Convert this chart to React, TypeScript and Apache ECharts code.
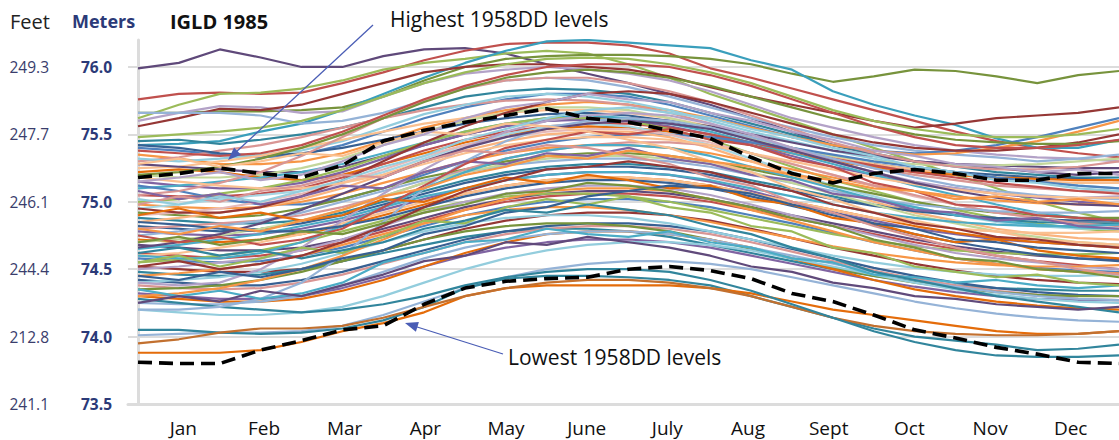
import React, { useEffect, useRef } from "react";
import * as echarts from "echarts";

// x positions: half-month steps from start of January to end of December
const halfMonthIndex = [0, 1, 2, 3, 4, 5, 6, 7, 8, 9, 10, 11, 12, 13, 14, 15, 16, 17, 18, 19, 20, 21, 22, 23, 24];
const monthLabels = ["Jan", "Feb", "Mar", "Apr", "May", "June", "July", "Aug", "Sept", "Oct", "Nov", "Dec"];
const meterTicks = [73.5, 74.0, 74.5, 75.0, 75.5, 76.0];
const feetTicks = ["241.1", "212.8", "244.4", "246.1", "247.7", "249.3"];

const highest1958DD = [75.18, 75.21, 75.25, 75.21, 75.18, 75.27, 75.45, 75.53, 75.59, 75.64, 75.69, 75.62, 75.59, 75.53, 75.47, 75.33, 75.21, 75.14, 75.21, 75.24, 75.21, 75.16, 75.16, 75.21, 75.21];
const lowest1958DD = [73.81, 73.80, 73.80, 73.90, 73.97, 74.05, 74.08, 74.24, 74.36, 74.41, 74.43, 74.44, 74.50, 74.52, 74.49, 74.43, 74.32, 74.26, 74.16, 74.05, 73.99, 73.92, 73.87, 73.81, 73.80];

const highTraces = [
  [75.99, 76.03, 76.13, 76.07, 76.00, 76.00, 76.08, 76.13, 76.14, 76.10, 76.02, 75.95, 75.88, 75.80, 75.72, 75.62, 75.52, 75.42, 75.35, 75.30, 75.28, 75.25, 75.22, 75.20, 75.22],
  [75.76, 75.80, 75.81, 75.80, 75.81, 75.88, 75.96, 76.05, 76.12, 76.17, 76.18, 76.18, 76.16, 76.10, 75.99, 75.92, 75.84, 75.76, 75.68, 75.60, 75.52, 75.45, 75.40, 75.36, 75.33],
  [75.62, 75.72, 75.80, 75.81, 75.84, 75.90, 75.98, 76.03, 76.06, 76.10, 76.12, 76.10, 76.02, 75.92, 75.80, 75.70, 75.60, 75.50, 75.40, 75.30, 75.20, 75.10, 75.00, 74.92, 74.85],
  [75.66, 75.66, 75.67, 75.67, 75.68, 75.70, 75.78, 75.90, 76.00, 76.06, 76.08, 76.09, 76.09, 76.08, 76.06, 76.02, 75.95, 75.89, 75.93, 75.98, 75.97, 75.93, 75.88, 75.94, 75.97],
  [75.42, 75.43, 75.45, 75.52, 75.58, 75.68, 75.80, 75.92, 76.03, 76.12, 76.19, 76.20, 76.18, 76.16, 76.14, 76.05, 75.98, 75.82, 75.72, 75.64, 75.57, 75.47, 75.40, 75.40, 75.46],
  [75.60, 75.66, 75.71, 75.70, 75.66, 75.67, 75.78, 75.88, 75.95, 75.98, 76.00, 75.98, 75.95, 75.90, 75.82, 75.72, 75.62, 75.55, 75.48, 75.42, 75.38, 75.35, 75.33, 75.32, 75.30],
  [75.56, 75.62, 75.69, 75.68, 75.72, 75.80, 75.88, 75.96, 76.00, 76.02, 76.02, 76.00, 75.98, 75.93, 75.85, 75.78, 75.72, 75.66, 75.60, 75.55, 75.58, 75.62, 75.64, 75.66, 75.70],
  [75.66, 75.66, 75.66, 75.64, 75.58, 75.60, 75.66, 75.75, 75.85, 75.90, 75.92, 75.90, 75.85, 75.78, 75.70, 75.62, 75.55, 75.48, 75.42, 75.38, 75.35, 75.33, 75.30, 75.32, 75.35],
  [75.45, 75.46, 75.43, 75.46, 75.50, 75.55, 75.62, 75.70, 75.78, 75.82, 75.84, 75.83, 75.80, 75.74, 75.66, 75.58, 75.50, 75.42, 75.36, 75.30, 75.26, 75.22, 75.20, 75.18, 75.18],
];

const upperMidTraces = [
  [75.40, 75.38, 75.35, 75.33, 75.35, 75.42, 75.52, 75.62, 75.70, 75.76, 75.80, 75.80, 75.78, 75.72, 75.64, 75.56, 75.48, 75.42, 75.38, 75.36, 75.38, 75.42, 75.48, 75.55, 75.62],
  [75.35, 75.32, 75.28, 75.28, 75.30, 75.36, 75.45, 75.55, 75.62, 75.68, 75.72, 75.74, 75.72, 75.68, 75.62, 75.55, 75.48, 75.42, 75.38, 75.35, 75.36, 75.40, 75.45, 75.52, 75.60],
  [75.30, 75.33, 75.38, 75.42, 75.48, 75.55, 75.62, 75.68, 75.72, 75.75, 75.76, 75.75, 75.72, 75.66, 75.58, 75.48, 75.40, 75.32, 75.25, 75.20, 75.16, 75.12, 75.10, 75.08, 75.08],
  [75.42, 75.40, 75.36, 75.34, 75.36, 75.40, 75.46, 75.52, 75.58, 75.62, 75.65, 75.66, 75.64, 75.60, 75.54, 75.46, 75.38, 75.32, 75.28, 75.24, 75.22, 75.20, 75.18, 75.17, 75.16],
  [75.32, 75.30, 75.32, 75.35, 75.38, 75.45, 75.55, 75.65, 75.72, 75.78, 75.80, 75.78, 75.74, 75.68, 75.60, 75.52, 75.45, 75.38, 75.32, 75.26, 75.22, 75.18, 75.15, 75.12, 75.10],
  [75.25, 75.26, 75.30, 75.34, 75.40, 75.46, 75.52, 75.58, 75.62, 75.66, 75.68, 75.68, 75.66, 75.62, 75.56, 75.48, 75.40, 75.33, 75.28, 75.24, 75.20, 75.17, 75.15, 75.14, 75.14],
  [75.28, 75.26, 75.24, 75.22, 75.22, 75.26, 75.34, 75.42, 75.50, 75.56, 75.60, 75.62, 75.62, 75.60, 75.56, 75.50, 75.44, 75.38, 75.34, 75.30, 75.28, 75.27, 75.26, 75.25, 75.25],
  [75.20, 75.18, 75.18, 75.20, 75.25, 75.32, 75.42, 75.52, 75.60, 75.66, 75.70, 75.70, 75.68, 75.62, 75.55, 75.47, 75.40, 75.34, 75.30, 75.28, 75.27, 75.27, 75.28, 75.30, 75.32],
  [75.22, 75.24, 75.22, 75.18, 75.16, 75.20, 75.28, 75.36, 75.44, 75.50, 75.54, 75.56, 75.55, 75.52, 75.48, 75.42, 75.36, 75.30, 75.26, 75.22, 75.20, 75.18, 75.17, 75.16, 75.16],
  [75.15, 75.12, 75.10, 75.10, 75.14, 75.22, 75.32, 75.42, 75.50, 75.56, 75.60, 75.61, 75.60, 75.56, 75.50, 75.42, 75.34, 75.26, 75.20, 75.14, 75.10, 75.06, 75.03, 75.00, 74.98],
  [75.10, 75.12, 75.15, 75.18, 75.22, 75.28, 75.36, 75.44, 75.52, 75.58, 75.62, 75.64, 75.62, 75.58, 75.52, 75.44, 75.36, 75.28, 75.20, 75.12, 75.05, 74.98, 74.92, 74.88, 74.86],
  [75.05, 75.04, 75.04, 75.06, 75.10, 75.18, 75.28, 75.38, 75.46, 75.52, 75.56, 75.58, 75.58, 75.55, 75.50, 75.44, 75.38, 75.32, 75.27, 75.22, 75.18, 75.14, 75.11, 75.08, 75.06],
];

const midTraces = [
  [75.12, 75.08, 75.02, 74.98, 74.98, 75.02, 75.10, 75.20, 75.30, 75.38, 75.44, 75.48, 75.50, 75.50, 75.48, 75.44, 75.40, 75.35, 75.30, 75.26, 75.22, 75.18, 75.15, 75.12, 75.10],
  [75.00, 75.02, 75.06, 75.10, 75.16, 75.24, 75.34, 75.44, 75.52, 75.58, 75.62, 75.62, 75.60, 75.54, 75.46, 75.36, 75.26, 75.16, 75.08, 75.00, 74.94, 74.88, 74.84, 74.80, 74.78],
  [74.98, 74.96, 74.95, 74.96, 75.00, 75.06, 75.14, 75.22, 75.30, 75.36, 75.40, 75.42, 75.42, 75.40, 75.36, 75.30, 75.24, 75.18, 75.12, 75.08, 75.04, 75.01, 74.99, 74.98, 74.98],
  [74.95, 74.98, 75.02, 75.05, 75.08, 75.14, 75.22, 75.32, 75.42, 75.50, 75.56, 75.58, 75.56, 75.50, 75.42, 75.32, 75.22, 75.12, 75.04, 74.96, 74.90, 74.85, 74.82, 74.80, 74.80],
  [74.92, 74.90, 74.88, 74.90, 74.95, 75.02, 75.10, 75.18, 75.24, 75.30, 75.34, 75.36, 75.36, 75.34, 75.30, 75.24, 75.18, 75.12, 75.06, 75.00, 74.95, 74.92, 74.90, 74.88, 74.88],
  [74.90, 74.92, 74.95, 75.00, 75.06, 75.14, 75.24, 75.34, 75.42, 75.48, 75.52, 75.54, 75.54, 75.50, 75.44, 75.36, 75.28, 75.20, 75.12, 75.04, 74.98, 74.92, 74.88, 74.85, 74.84],
  [74.88, 74.86, 74.84, 74.84, 74.86, 74.92, 75.00, 75.08, 75.16, 75.22, 75.26, 75.28, 75.28, 75.26, 75.22, 75.16, 75.10, 75.04, 74.98, 74.94, 74.90, 74.87, 74.85, 74.84, 74.84],
  [74.85, 74.88, 74.92, 74.96, 75.02, 75.10, 75.20, 75.30, 75.38, 75.45, 75.50, 75.52, 75.52, 75.48, 75.40, 75.30, 75.20, 75.10, 75.00, 74.92, 74.86, 74.80, 74.76, 74.73, 74.72],
  [74.82, 74.80, 74.78, 74.80, 74.84, 74.90, 74.98, 75.06, 75.14, 75.20, 75.24, 75.26, 75.26, 75.24, 75.20, 75.14, 75.08, 75.02, 74.97, 74.93, 74.90, 74.88, 74.87, 74.86, 74.86],
  [74.80, 74.82, 74.84, 74.86, 74.90, 74.96, 75.04, 75.14, 75.24, 75.32, 75.38, 75.42, 75.44, 75.44, 75.42, 75.36, 75.28, 75.20, 75.12, 75.05, 74.98, 74.92, 74.88, 74.84, 74.82],
  [74.78, 74.76, 74.75, 74.76, 74.80, 74.86, 74.94, 75.02, 75.10, 75.16, 75.20, 75.22, 75.22, 75.20, 75.15, 75.08, 75.00, 74.92, 74.86, 74.80, 74.76, 74.72, 74.70, 74.68, 74.68],
  [74.75, 74.78, 74.82, 74.86, 74.92, 75.00, 75.08, 75.16, 75.22, 75.27, 75.30, 75.32, 75.32, 75.30, 75.26, 75.20, 75.14, 75.08, 75.02, 74.98, 74.95, 74.93, 74.92, 74.92, 74.93],
  [74.72, 74.70, 74.70, 74.72, 74.76, 74.82, 74.90, 74.98, 75.06, 75.12, 75.16, 75.18, 75.18, 75.16, 75.12, 75.06, 75.00, 74.94, 74.88, 74.82, 74.77, 74.73, 74.70, 74.68, 74.66],
  [74.70, 74.72, 74.75, 74.80, 74.86, 74.94, 75.04, 75.14, 75.22, 75.28, 75.32, 75.34, 75.34, 75.32, 75.28, 75.22, 75.14, 75.06, 74.98, 74.90, 74.84, 74.78, 74.74, 74.70, 74.68],
];

const lowerMidTraces = [
  [74.68, 74.66, 74.64, 74.64, 74.66, 74.72, 74.80, 74.88, 74.96, 75.02, 75.06, 75.08, 75.08, 75.06, 75.02, 74.96, 74.90, 74.84, 74.78, 74.72, 74.67, 74.63, 74.60, 74.58, 74.57],
  [74.65, 74.68, 74.72, 74.76, 74.82, 74.88, 74.96, 75.04, 75.10, 75.16, 75.20, 75.22, 75.22, 75.20, 75.16, 75.10, 75.04, 74.98, 74.92, 74.88, 74.85, 74.83, 74.82, 74.82, 74.83],
  [74.62, 74.60, 74.58, 74.60, 74.64, 74.70, 74.78, 74.86, 74.94, 75.00, 75.04, 75.06, 75.06, 75.04, 75.00, 74.94, 74.88, 74.82, 74.76, 74.70, 74.65, 74.60, 74.56, 74.53, 74.50],
  [74.60, 74.62, 74.66, 74.70, 74.76, 74.84, 74.92, 75.00, 75.06, 75.12, 75.16, 75.18, 75.18, 75.16, 75.12, 75.06, 75.00, 74.94, 74.88, 74.84, 74.80, 74.78, 74.77, 74.77, 74.78],
  [74.58, 74.56, 74.55, 74.56, 74.60, 74.66, 74.74, 74.82, 74.90, 74.96, 75.00, 75.02, 75.02, 75.00, 74.96, 74.90, 74.84, 74.77, 74.70, 74.64, 74.58, 74.54, 74.51, 74.49, 74.48],
  [74.55, 74.57, 74.60, 74.64, 74.70, 74.78, 74.86, 74.94, 75.00, 75.04, 75.06, 75.06, 75.04, 75.00, 74.94, 74.88, 74.82, 74.76, 74.71, 74.67, 74.64, 74.62, 74.61, 74.61, 74.62],
  [74.52, 74.50, 74.48, 74.48, 74.50, 74.56, 74.64, 74.72, 74.80, 74.86, 74.90, 74.92, 74.92, 74.90, 74.86, 74.80, 74.73, 74.66, 74.60, 74.54, 74.49, 74.45, 74.42, 74.40, 74.39],
  [74.50, 74.52, 74.55, 74.58, 74.64, 74.72, 74.82, 74.92, 75.00, 75.06, 75.10, 75.12, 75.12, 75.10, 75.05, 74.98, 74.90, 74.82, 74.75, 74.68, 74.62, 74.58, 74.55, 74.52, 74.50],
  [74.48, 74.46, 74.45, 74.46, 74.50, 74.56, 74.62, 74.68, 74.74, 74.78, 74.80, 74.80, 74.78, 74.74, 74.68, 74.62, 74.56, 74.50, 74.45, 74.41, 74.38, 74.36, 74.35, 74.34, 74.34],
  [74.45, 74.47, 74.50, 74.54, 74.60, 74.68, 74.76, 74.84, 74.90, 74.94, 74.96, 74.96, 74.94, 74.90, 74.85, 74.79, 74.73, 74.67, 74.62, 74.58, 74.55, 74.53, 74.52, 74.52, 74.53],
  [74.42, 74.40, 74.38, 74.38, 74.42, 74.48, 74.56, 74.64, 74.72, 74.78, 74.82, 74.84, 74.84, 74.82, 74.78, 74.72, 74.65, 74.58, 74.51, 74.45, 74.40, 74.36, 74.33, 74.31, 74.30],
  [74.40, 74.42, 74.44, 74.48, 74.54, 74.62, 74.70, 74.78, 74.84, 74.88, 74.90, 74.90, 74.88, 74.84, 74.78, 74.72, 74.66, 74.60, 74.55, 74.51, 74.48, 74.46, 74.45, 74.45, 74.46],
  [74.38, 74.36, 74.35, 74.36, 74.40, 74.46, 74.54, 74.62, 74.70, 74.76, 74.80, 74.82, 74.82, 74.80, 74.76, 74.70, 74.63, 74.56, 74.49, 74.43, 74.38, 74.34, 74.31, 74.28, 74.27],
  [74.35, 74.36, 74.38, 74.42, 74.48, 74.56, 74.64, 74.72, 74.78, 74.82, 74.84, 74.84, 74.82, 74.78, 74.72, 74.65, 74.58, 74.51, 74.45, 74.40, 74.36, 74.33, 74.31, 74.30, 74.30],
  [74.32, 74.30, 74.28, 74.28, 74.30, 74.36, 74.44, 74.52, 74.60, 74.66, 74.70, 74.72, 74.72, 74.70, 74.66, 74.60, 74.54, 74.48, 74.42, 74.37, 74.33, 74.30, 74.28, 74.27, 74.27],
  [74.30, 74.28, 74.26, 74.26, 74.28, 74.34, 74.42, 74.52, 74.62, 74.70, 74.76, 74.78, 74.78, 74.76, 74.72, 74.66, 74.58, 74.50, 74.42, 74.35, 74.30, 74.26, 74.23, 74.21, 74.20],
  [74.25, 74.24, 74.24, 74.26, 74.30, 74.38, 74.48, 74.58, 74.66, 74.72, 74.76, 74.78, 74.78, 74.76, 74.72, 74.66, 74.60, 74.54, 74.48, 74.42, 74.37, 74.33, 74.30, 74.28, 74.27],
];

const lowTraces = [
  [74.20, 74.18, 74.16, 74.16, 74.18, 74.22, 74.30, 74.40, 74.50, 74.58, 74.64, 74.68, 74.70, 74.70, 74.68, 74.64, 74.58, 74.52, 74.46, 74.40, 74.35, 74.31, 74.28, 74.26, 74.25],
  [74.01, 74.02, 74.03, 74.03, 74.04, 74.08, 74.16, 74.26, 74.36, 74.44, 74.50, 74.54, 74.56, 74.56, 74.54, 74.50, 74.44, 74.38, 74.32, 74.26, 74.21, 74.17, 74.14, 74.12, 74.11],
  [74.05, 74.05, 74.03, 74.02, 74.03, 74.06, 74.12, 74.22, 74.36, 74.43, 74.45, 74.45, 74.44, 74.42, 74.38, 74.30, 74.22, 74.14, 74.06, 74.00, 73.97, 73.94, 73.90, 73.91, 73.94],
  [73.88, 73.88, 73.88, 73.90, 73.96, 74.04, 74.10, 74.18, 74.30, 74.36, 74.38, 74.38, 74.38, 74.38, 74.36, 74.32, 74.26, 74.20, 74.16, 74.12, 74.08, 74.04, 74.02, 74.02, 74.04],
  [73.95, 73.98, 74.03, 74.06, 74.06, 74.08, 74.14, 74.22, 74.30, 74.36, 74.40, 74.42, 74.42, 74.40, 74.36, 74.30, 74.22, 74.14, 74.08, 74.04, 74.02, 74.01, 74.01, 74.02, 74.04],
  [74.28, 74.25, 74.22, 74.20, 74.18, 74.20, 74.24, 74.30, 74.38, 74.44, 74.48, 74.50, 74.50, 74.48, 74.42, 74.34, 74.24, 74.14, 74.04, 73.96, 73.90, 73.86, 73.85, 73.85, 73.86],
];

const crossingTraces = [
  [74.20, 74.20, 74.22, 74.28, 74.40, 74.60, 74.85, 75.10, 75.30, 75.45, 75.55, 75.60, 75.62, 75.60, 75.55, 75.48, 75.40, 75.32, 75.25, 75.18, 75.12, 75.08, 75.05, 75.03, 75.02],
  [74.40, 74.38, 74.40, 74.50, 74.66, 74.86, 75.06, 75.24, 75.40, 75.52, 75.60, 75.64, 75.66, 75.64, 75.58, 75.50, 75.40, 75.30, 75.22, 75.15, 75.10, 75.06, 75.04, 75.03, 75.04],
  [75.05, 75.08, 75.14, 75.22, 75.34, 75.48, 75.62, 75.75, 75.84, 75.90, 75.92, 75.92, 75.88, 75.82, 75.74, 75.64, 75.54, 75.44, 75.36, 75.30, 75.26, 75.24, 75.24, 75.26, 75.30],
  [74.95, 74.92, 74.92, 74.96, 75.04, 75.16, 75.30, 75.44, 75.56, 75.66, 75.74, 75.80, 75.82, 75.80, 75.74, 75.66, 75.58, 75.50, 75.44, 75.40, 75.38, 75.38, 75.40, 75.44, 75.50],
  [75.20, 75.22, 75.26, 75.32, 75.40, 75.50, 75.62, 75.74, 75.84, 75.92, 75.96, 75.98, 75.96, 75.92, 75.86, 75.78, 75.70, 75.62, 75.56, 75.50, 75.46, 75.44, 75.43, 75.43, 75.45],
  [74.60, 74.58, 74.58, 74.62, 74.70, 74.82, 74.96, 75.10, 75.22, 75.32, 75.38, 75.42, 75.42, 75.40, 75.34, 75.26, 75.18, 75.10, 75.02, 74.96, 74.90, 74.86, 74.83, 74.81, 74.80],
  [74.30, 74.32, 74.36, 74.42, 74.50, 74.60, 74.72, 74.84, 74.94, 75.02, 75.08, 75.10, 75.10, 75.08, 75.02, 74.94, 74.86, 74.78, 74.70, 74.64, 74.58, 74.54, 74.50, 74.48, 74.47],
  [75.38, 75.36, 75.34, 75.36, 75.42, 75.52, 75.64, 75.76, 75.86, 75.94, 76.00, 76.02, 76.02, 76.00, 75.94, 75.86, 75.76, 75.66, 75.56, 75.48, 75.42, 75.40, 75.40, 75.42, 75.46],
  [75.48, 75.50, 75.52, 75.55, 75.60, 75.68, 75.78, 75.88, 75.96, 76.02, 76.06, 76.07, 76.06, 76.02, 75.96, 75.88, 75.78, 75.68, 75.60, 75.54, 75.50, 75.48, 75.48, 75.50, 75.54],
  [74.85, 74.83, 74.80, 74.78, 74.78, 74.82, 74.88, 74.96, 75.04, 75.10, 75.14, 75.16, 75.16, 75.14, 75.10, 75.04, 74.97, 74.90, 74.83, 74.76, 74.70, 74.65, 74.61, 74.58, 74.56],
  [75.18, 75.15, 75.12, 75.10, 75.10, 75.14, 75.20, 75.28, 75.36, 75.42, 75.46, 75.48, 75.48, 75.46, 75.42, 75.36, 75.30, 75.24, 75.18, 75.13, 75.09, 75.06, 75.04, 75.03, 75.03],
  [74.66, 74.70, 74.76, 74.84, 74.94, 75.06, 75.18, 75.30, 75.40, 75.48, 75.54, 75.58, 75.60, 75.58, 75.54, 75.46, 75.38, 75.30, 75.22, 75.14, 75.08, 75.03, 75.00, 74.98, 74.97],
];

const irregularTraces = [
  [74.35, 74.30, 74.34, 74.28, 74.32, 74.40, 74.55, 74.62, 74.70, 74.72, 74.80, 74.76, 74.74, 74.78, 74.70, 74.66, 74.58, 74.55, 74.46, 74.44, 74.40, 74.42, 74.38, 74.36, 74.38],
  [74.90, 74.95, 74.88, 74.92, 74.86, 74.90, 75.02, 75.00, 75.10, 75.18, 75.14, 75.20, 75.16, 75.10, 75.12, 75.02, 74.98, 74.88, 74.84, 74.76, 74.70, 74.72, 74.64, 74.60, 74.58],
  [75.08, 75.02, 75.06, 74.98, 75.04, 75.12, 75.10, 75.22, 75.30, 75.28, 75.36, 75.34, 75.40, 75.32, 75.28, 75.20, 75.16, 75.06, 75.02, 74.94, 74.92, 74.86, 74.88, 74.82, 74.80],
  [74.55, 74.60, 74.52, 74.58, 74.66, 74.62, 74.74, 74.86, 74.84, 74.96, 75.02, 74.98, 75.04, 74.96, 74.92, 74.82, 74.78, 74.66, 74.62, 74.52, 74.48, 74.44, 74.46, 74.40, 74.38],
  [74.75, 74.70, 74.74, 74.68, 74.72, 74.80, 74.96, 75.12, 75.28, 75.40, 75.46, 75.52, 75.50, 75.54, 75.46, 75.42, 75.32, 75.26, 75.14, 75.08, 74.98, 74.96, 74.90, 74.88, 74.86],
  [75.28, 75.32, 75.26, 75.30, 75.36, 75.34, 75.44, 75.52, 75.50, 75.58, 75.56, 75.52, 75.46, 75.40, 75.30, 75.22, 75.10, 75.02, 74.92, 74.86, 74.80, 74.78, 74.72, 74.70, 74.68],
  [74.45, 74.42, 74.48, 74.44, 74.50, 74.58, 74.64, 74.76, 74.82, 74.92, 74.96, 75.04, 75.08, 75.12, 75.10, 75.06, 74.98, 74.92, 74.84, 74.80, 74.72, 74.70, 74.66, 74.64, 74.62],
  [74.98, 75.04, 75.00, 75.08, 75.12, 75.20, 75.18, 75.30, 75.38, 75.36, 75.42, 75.40, 75.34, 75.28, 75.18, 75.12, 75.00, 74.92, 74.82, 74.74, 74.66, 74.60, 74.56, 74.50, 74.46],
  [74.62, 74.66, 74.60, 74.64, 74.58, 74.64, 74.70, 74.80, 74.86, 74.94, 74.92, 74.98, 74.94, 74.90, 74.82, 74.76, 74.66, 74.58, 74.48, 74.42, 74.36, 74.30, 74.26, 74.22, 74.18],
  [75.15, 75.18, 75.22, 75.16, 75.20, 75.30, 75.42, 75.50, 75.62, 75.70, 75.74, 75.80, 75.76, 75.74, 75.66, 75.60, 75.52, 75.46, 75.38, 75.34, 75.28, 75.26, 75.22, 75.24, 75.20],
  [74.80, 74.76, 74.82, 74.78, 74.86, 74.94, 75.04, 75.10, 75.20, 75.26, 75.34, 75.32, 75.38, 75.34, 75.30, 75.26, 75.20, 75.16, 75.10, 75.08, 75.02, 75.04, 75.00, 75.02, 74.98],
  [74.25, 74.30, 74.26, 74.34, 74.30, 74.38, 74.46, 74.56, 74.60, 74.70, 74.68, 74.74, 74.70, 74.66, 74.60, 74.52, 74.48, 74.40, 74.36, 74.30, 74.28, 74.24, 74.22, 74.20, 74.22],
  [75.02, 74.98, 75.04, 75.00, 75.08, 75.16, 75.26, 75.34, 75.46, 75.54, 75.62, 75.68, 75.70, 75.66, 75.62, 75.54, 75.48, 75.40, 75.34, 75.26, 75.22, 75.16, 75.14, 75.10, 75.08],
  [74.70, 74.74, 74.68, 74.72, 74.78, 74.76, 74.84, 74.92, 74.98, 75.06, 75.08, 75.14, 75.12, 75.08, 75.02, 74.96, 74.88, 74.82, 74.72, 74.66, 74.58, 74.56, 74.50, 74.48, 74.44],
  [74.52, 74.56, 74.50, 74.54, 74.60, 74.70, 74.82, 74.96, 75.08, 75.16, 75.24, 75.26, 75.30, 75.26, 75.22, 75.14, 75.08, 74.98, 74.92, 74.84, 74.80, 74.74, 74.72, 74.68, 74.66],
];

const traceColors = [
  "#5f497a", "#c0504d", "#9bbb59", "#77933c", "#3a9fbc", "#b3a2c7", "#953735", "#95b3d7", "#31859c",
  "#4f81bd", "#f79646", "#d99694", "#376092", "#93cddd", "#fac090", "#604a7b", "#c3d69b", "#e46c0a", "#8064a2", "#4bacc6", "#c0504d",
  "#4f81bd", "#9bbb59", "#f79646", "#a5d5e2", "#77933c", "#e6b9b8", "#31859c", "#fab47f", "#376092", "#d99694", "#8064a2", "#95b3d7", "#e46c0a", "#c3d69b",
  "#604a7b", "#4bacc6", "#c0504d", "#fac090", "#4f81bd", "#9bbb59", "#953735", "#b3a2c7", "#31859c", "#f79646", "#376092", "#93cddd", "#d99694", "#77933c", "#8064a2", "#e46c0a", "#95b3d7",
  "#93cddd", "#95b3d7", "#31859c", "#e46c0a", "#c2702f", "#31859c",
  "#95b3d7", "#b3a2c7", "#d99694", "#953735", "#77933c", "#4bacc6", "#f79646", "#c0504d", "#9bbb59", "#376092", "#fac090", "#604a7b",
  "#4bacc6", "#e46c0a", "#8064a2", "#9bbb59", "#c0504d", "#fac090", "#376092", "#d99694", "#31859c", "#b3a2c7", "#f79646", "#604a7b", "#93cddd", "#77933c", "#953735",
];

const FONT = "'Open Sans', 'Noto Sans', sans-serif";

export default function App() {
  const ref = useRef<HTMLDivElement>(null);

  useEffect(() => {
    if (!ref.current) return;
    const chart = echarts.init(ref.current, undefined, { renderer: "svg" });
    const allTraces = [...highTraces, ...upperMidTraces, ...midTraces, ...lowerMidTraces, ...lowTraces, ...crossingTraces, ...irregularTraces];

    const traceSeries = allTraces.map((vals, k) => ({
      type: "line",
      xAxisIndex: 0,
      yAxisIndex: 0,
      data: vals.map((v, i) => [halfMonthIndex[i], v]),
      symbol: "none",
      silent: true,
      z: 2,
      lineStyle: { color: traceColors[k % traceColors.length], width: 2.2 },
    }));

    const dashed = (vals: number[]) => ({
      type: "line",
      xAxisIndex: 0,
      yAxisIndex: 0,
      data: vals.map((v, i) => [halfMonthIndex[i], v]),
      symbol: "none",
      silent: true,
      z: 5,
      lineStyle: { color: "#000000", width: 3.6, type: [14, 7] },
    });

    const feetMap: Record<string, string> = {};
    meterTicks.forEach((m, i) => (feetMap[m.toFixed(1)] = feetTicks[i]));
    const gridColor = "#dcdcdc";

    chart.setOption({
      animation: false,
      backgroundColor: "#ffffff",
      textStyle: { fontFamily: FONT },
      grid: [
        { left: 128, right: 0, top: 40, bottom: 36 },
        { left: 143, right: 8, top: 40, bottom: 36 },
      ],
      xAxis: [
        {
          type: "value",
          gridIndex: 0,
          min: -0.245,
          max: 24,
          axisLine: { show: true, lineStyle: { color: gridColor, width: 3 } },
          axisTick: { show: false },
          axisLabel: { show: false },
          splitLine: { show: false },
        },
        {
          type: "category",
          gridIndex: 1,
          data: monthLabels,
          boundaryGap: true,
          axisLine: { show: false },
          axisTick: { show: false },
          splitLine: { show: false },
          axisLabel: { color: "#111111", fontSize: 19, margin: 14, fontFamily: FONT, interval: 0 },
        },
      ],
      yAxis: [
        {
          type: "value",
          gridIndex: 0,
          min: 73.5,
          max: 76.2,
          interval: 0.5,
          axisLine: { show: true, lineStyle: { color: gridColor, width: 3 } },
          axisTick: { show: false },
          splitLine: {
            show: true,
            lineStyle: { color: [gridColor, gridColor, gridColor, gridColor, gridColor, gridColor, "rgba(0,0,0,0)"], width: 2 },
          },
          axisLabel: {
            showMaxLabel: false,
            formatter: (v: number) => v.toFixed(1),
            color: "#2b3a78",
            fontWeight: "bold",
            fontSize: 15.5,
            margin: 16,
            fontFamily: FONT,
          },
        },
        {
          type: "value",
          gridIndex: 0,
          position: "left",
          offset: 71,
          min: 73.5,
          max: 76.2,
          interval: 0.5,
          axisLine: { show: false },
          axisTick: { show: false },
          splitLine: { show: false },
          axisLabel: {
            showMaxLabel: false,
            formatter: (v: number) => feetMap[v.toFixed(1)] ?? "",
            color: "#3a3d6c",
            fontSize: 15.5,
            margin: 8,
            fontFamily: FONT,
          },
        },
        { type: "value", gridIndex: 1, show: false, min: 0, max: 1 },
      ],
      series: [...traceSeries, dashed(highest1958DD), dashed(lowest1958DD)],
      graphic: [
        { type: "text", x: 10, y: 21, z: 100, style: { text: "Feet", fill: "#222222", fontSize: 20, fontFamily: FONT, verticalAlign: "middle", align: "left" } },
        { type: "text", x: 72, y: 21, z: 100, style: { text: "Meters", fill: "#2b3a78", fontSize: 18, fontWeight: "bold", fontFamily: FONT, verticalAlign: "middle", align: "left" } },
        { type: "text", x: 170, y: 21, z: 100, style: { text: "IGLD 1985", fill: "#111111", fontSize: 20, fontWeight: "bold", fontFamily: FONT, verticalAlign: "middle", align: "left" } },
        { type: "text", x: 390, y: 19, z: 100, style: { text: "Highest 1958DD levels", fill: "#111111", fontSize: 21, fontFamily: FONT, verticalAlign: "middle", align: "left" } },
        { type: "line", z: 100, shape: { x1: 373, y1: 25, x2: 235, y2: 153 }, style: { stroke: "#4a5db5", lineWidth: 1.3 } },
        { type: "polygon", z: 100, shape: { points: [[228, 160], [240.9, 154.8], [234.1, 147.5]] }, style: { fill: "#4a5db5" } },
        { type: "text", x: 508, y: 357, z: 100, style: { text: "Lowest 1958DD levels", fill: "#111111", fontSize: 21, fontFamily: FONT, verticalAlign: "middle", align: "left" } },
        { type: "line", z: 100, shape: { x1: 503, y1: 354, x2: 414, y2: 326 }, style: { stroke: "#4a5db5", lineWidth: 1.3 } },
        { type: "polygon", z: 100, shape: { points: [[405, 323], [418.9, 322.1], [415.9, 331.7]] }, style: { fill: "#4a5db5" } },
      ],
    });

    return () => chart.dispose();
  }, []);

  return <div ref={ref} style={{ position: "fixed", left: 0, top: 0, width: 1119, height: 440 }} />;
}
